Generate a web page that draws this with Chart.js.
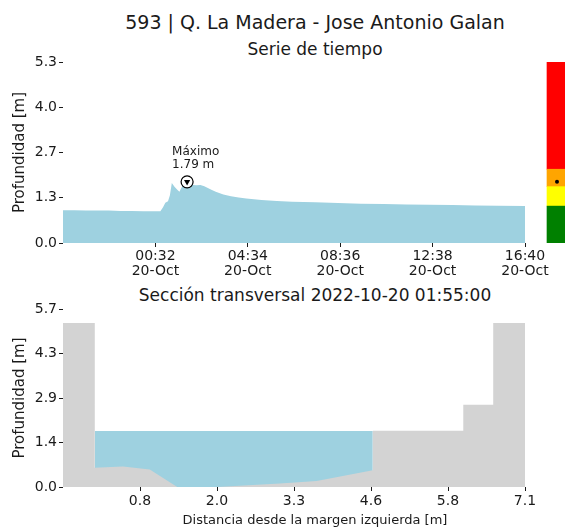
<!DOCTYPE html>
<html>
<head>
<meta charset="utf-8">
<script src="https://cdn.jsdelivr.net/npm/chart.js@4/dist/chart.umd.min.js"></script>
<style>
  html, body { margin: 0; padding: 0; background: #fff; }
  body { width: 565px; height: 527px; position: relative; overflow: hidden; font-family: 'DejaVu Sans', sans-serif; color: #1a1a1a; }
  canvas { position: absolute; }
  .ttl { position: absolute; white-space: nowrap; line-height: 1; transform: translate(-50%, -50%); }
</style>
</head>
<body>
<div class="ttl" style="left:315px; top:22px; font-size:19px;">593 | Q. La Madera - Jose Antonio Galan</div>
<div class="ttl" style="left:315px; top:49px; font-size:17px;">Serie de tiempo</div>
<div class="ttl" style="left:315px; top:295px; font-size:17px;">Sección transversal 2022-10-20 01:55:00</div>
<canvas id="serie" width="565" height="280" style="left:0; top:0; width:565px; height:280px;"></canvas>
<canvas id="niveles" width="30" height="280" style="left:542px; top:0; width:30px; height:280px;"></canvas>
<canvas id="seccion" width="565" height="247" style="left:0; top:280px; width:565px; height:247px;"></canvas>
<div class="ttl" style="left:315px; top:519px; font-size:13px;">Distancia desde la margen izquierda [m]</div>
<script>
// ---- serie de tiempo (minutes since 2022-10-19 20:30) ----
const serieMin   = [0, 30, 60, 90, 120, 150, 180, 210, 240, 255, 262, 268, 275, 280, 285, 292, 300, 305, 310, 315, 320, 325, 330, 340, 350, 360, 370, 378, 390, 400, 420, 440, 460, 480, 500, 520, 560, 600, 660, 720, 780, 840, 900, 960, 1020, 1080, 1140, 1210];
const serieDepth = [0.96, 0.96, 0.95, 0.95, 0.95, 0.94, 0.94, 0.93, 0.93, 0.93, 1.05, 1.18, 1.22, 1.40, 1.76, 1.65, 1.55, 1.50, 1.62, 1.70, 1.72, 1.79, 1.72, 1.70, 1.69, 1.70, 1.66, 1.62, 1.55, 1.50, 1.42, 1.37, 1.33, 1.30, 1.28, 1.26, 1.23, 1.21, 1.19, 1.17, 1.15, 1.14, 1.13, 1.12, 1.11, 1.10, 1.09, 1.08];
const maxMin = 325, maxDepth = 1.79;
const xTickMin   = [242, 484, 726, 968, 1210];
const xTickHour  = ['00:32', '04:34', '08:36', '12:38', '16:40'];
const xTickDay   = ['20-Oct', '20-Oct', '20-Oct', '20-Oct', '20-Oct'];
const yTickSerie = [0, 1.325, 2.65, 3.975, 5.3];
const yLblSerie  = ['0.0', '1.3', '2.7', '4.0', '5.3'];

// ---- umbrales de alerta (m) ----
const nivelNombres = ['verde', 'amarillo', 'naranja', 'rojo'];
const nivelDesde   = [0, 1.08, 1.65, 2.16];
const nivelHasta   = [1.08, 1.65, 2.16, 5.3];
const nivelColores = ['#008000', '#ffff00', '#ffa500', '#ff0000'];

// ---- sección transversal ----
const terrenoX = [-0.46, 0.06, 0.06, 0.52, 0.96, 1.41, 2.06, 3.09, 3.69, 4.61, 4.61, 6.09, 6.09, 6.58, 6.58, 7.1];
const terrenoY = [5.25, 5.25, 0.62, 0.66, 0.56, 0.0, 0.0, 0.11, 0.19, 0.54, 1.80, 1.80, 2.63, 2.63, 5.25, 5.25];
const aguaX = [0.06, 4.61];
const aguaY = [1.79, 1.79];
const xTickSec   = [0.8, 2.06, 3.32, 4.58, 5.84, 7.1];
const xLblSec    = ['0.8', '2.0', '3.3', '4.6', '5.8', '7.1'];
const yTickSec   = [0, 1.425, 2.85, 4.275, 5.7];
const yLblSec    = ['0.0', '1.4', '2.9', '4.3', '5.7'];

const FONT = 'DejaVu Sans';
const INK = '#1a1a1a';
const AGUA = '#9ed1e0';
const TIERRA = '#d3d3d3';

const pts = (xs, ys) => xs.map((x, i) => ({ x: x, y: ys[i] }));

function axisY(ticks, labels, max){
  return {
    type: 'linear', min: 0, max: max,
    border: { display: false },
    grid: { drawOnChartArea: false, drawTicks: true, tickLength: 4, color: INK, lineWidth: 1 },
    afterBuildTicks: s => { s.ticks = ticks.map(v => ({ value: v })); },
    afterFit: s => { s.width = 63; },
    ticks: { color: INK, padding: 2, font: { family: FONT, size: 14 }, callback: (v, i) => labels[i] },
    title: { display: true, text: 'Profundidad [m]', color: INK, font: { family: FONT, size: 15, lineHeight: 1.2 }, padding: { top: 11, bottom: 0 } }
  };
}

// anotacion del maximo
const maxLabel = {
  id: 'maxLabel',
  afterDatasetsDraw(chart){
    const el = chart.getDatasetMeta(1).data[0];
    if (!el) return;
    const ctx = chart.ctx;
    ctx.save();
    ctx.fillStyle = INK;
    ctx.font = '12px "DejaVu Sans"';
    ctx.textAlign = 'left';
    ctx.textBaseline = 'middle';
    ctx.fillText('Máximo', el.x - 15, el.y - 30);
    ctx.fillText(maxDepth.toFixed(2) + ' m', el.x - 15, el.y - 17);
    ctx.restore();
  }
};

new Chart(document.getElementById('serie'), {
  type: 'line',
  data: {
    datasets: [
      { data: pts(serieMin, serieDepth), fill: 'origin', backgroundColor: AGUA, borderWidth: 0, pointRadius: 0, tension: 0, order: 3 },
      { data: [{ x: maxMin, y: maxDepth }], showLine: false, pointStyle: 'circle', pointRadius: 6, pointBackgroundColor: '#fff', pointBorderColor: '#000', pointBorderWidth: 1.2, order: 2 },
      { data: [{ x: maxMin, y: maxDepth }], showLine: false, pointStyle: 'triangle', rotation: 180, pointRadius: 3.6, pointBackgroundColor: '#000', pointBorderColor: '#000', pointBorderWidth: 0, order: 1 }
    ]
  },
  options: {
    responsive: false, animation: false, events: [],
    layout: { padding: { top: 62, left: 0, right: 40, bottom: 0 } },
    plugins: { legend: { display: false }, tooltip: { enabled: false } },
    scales: {
      x: {
        type: 'linear', min: 0, max: 1210,
        border: { display: false },
        grid: { drawOnChartArea: false, drawTicks: true, tickLength: 4, color: INK },
        afterBuildTicks: s => { s.ticks = xTickMin.map(v => ({ value: v })); },
        afterFit: s => { s.height = 37; },
        ticks: { color: INK, padding: 2, maxRotation: 0, autoSkip: false, font: { family: FONT, size: 14, lineHeight: '15px' }, callback: (v, i) => [xTickHour[i], xTickDay[i]] }
      },
      y: axisY(yTickSerie, yLblSerie, 5.3)
    }
  },
  plugins: [maxLabel]
});

// barra de niveles de alerta (canvas 542..572, barra 547..567)
new Chart(document.getElementById('niveles'), {
  type: 'bar',
  data: {
    labels: ['nivel'],
    datasets: nivelNombres.map((n, i) => ({
      label: n, data: [[nivelDesde[i], nivelHasta[i]]], backgroundColor: nivelColores[i],
      borderWidth: 0, barThickness: 20, grouped: false
    })).concat([{ type: 'line', data: [maxDepth], showLine: false, pointRadius: 2, pointBackgroundColor: '#000', pointBorderWidth: 0, order: -1 }])
  },
  options: {
    responsive: false, animation: false, events: [],
    layout: { padding: { top: 62, bottom: 37, left: 0, right: 0 } },
    plugins: { legend: { display: false }, tooltip: { enabled: false } },
    scales: { x: { display: false }, y: { display: false, min: 0, max: 5.3 } }
  }
});

// seccion transversal
new Chart(document.getElementById('seccion'), {
  type: 'line',
  data: {
    datasets: [
      { data: pts(terrenoX, terrenoY), fill: 'origin', backgroundColor: TIERRA, borderWidth: 0, pointRadius: 0, tension: 0, order: 1 },
      { data: pts(aguaX, aguaY), fill: 'origin', backgroundColor: AGUA, borderWidth: 0, pointRadius: 0, tension: 0, order: 2 }
    ]
  },
  options: {
    responsive: false, animation: false, events: [],
    layout: { padding: { top: 29, left: 0, right: 40, bottom: 0 } },
    plugins: { legend: { display: false }, tooltip: { enabled: false } },
    scales: {
      x: {
        type: 'linear', min: -0.46, max: 7.1,
        border: { display: false },
        grid: { drawOnChartArea: false, drawTicks: true, tickLength: 4, color: INK },
        afterBuildTicks: s => { s.ticks = xTickSec.map(v => ({ value: v })); },
        afterFit: s => { s.height = 40; },
        ticks: { color: INK, padding: 2, maxRotation: 0, autoSkip: false, font: { family: FONT, size: 14 }, callback: (v, i) => xLblSec[i] }
      },
      y: axisY(yTickSec, yLblSec, 5.7)
    }
  }
});
</script>
</body>
</html>
